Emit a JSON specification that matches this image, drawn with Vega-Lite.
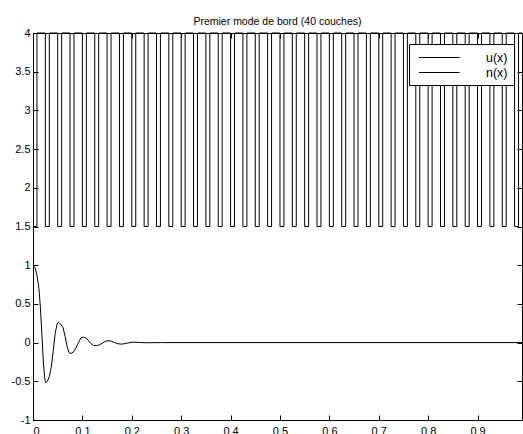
{
  "$schema": "https://vega.github.io/schema/vega-lite/v6.json",
  "width": 489,
  "height": 387,
  "autosize": {"type": "none"},
  "padding": {"left": 33, "top": 33, "right": 1, "bottom": 14},
  "background": "white",
  "title": {"text": "Premier mode de bord (40 couches)", "font": "Liberation Sans", "fontSize": 10.5, "fontWeight": "normal", "color": "black", "offset": 0, "anchor": "middle"},
  "config": {
    "view": {"stroke": "black", "strokeWidth": 1},
    "axis": {"grid": false, "domainColor": "black", "tickColor": "black", "labelColor": "black", "labelFont": "Liberation Sans", "labelFontSize": 11, "title": null, "tickSize": -5},
    "axisX": {"labelPadding": 10},
    "axisY": {"labelPadding": 8}
  },
  "datasets": {
    "n": [
      {"series": "n(x)", "x": 0, "y": 1.5}, {"series": "n(x)", "x": 0.008, "y": 4},
      {"series": "n(x)", "x": 0.025, "y": 1.5}, {"series": "n(x)", "x": 0.033, "y": 4},
      {"series": "n(x)", "x": 0.05, "y": 1.5}, {"series": "n(x)", "x": 0.058, "y": 4},
      {"series": "n(x)", "x": 0.075, "y": 1.5}, {"series": "n(x)", "x": 0.083, "y": 4},
      {"series": "n(x)", "x": 0.1, "y": 1.5}, {"series": "n(x)", "x": 0.108, "y": 4},
      {"series": "n(x)", "x": 0.125, "y": 1.5}, {"series": "n(x)", "x": 0.133, "y": 4},
      {"series": "n(x)", "x": 0.15, "y": 1.5}, {"series": "n(x)", "x": 0.158, "y": 4},
      {"series": "n(x)", "x": 0.175, "y": 1.5}, {"series": "n(x)", "x": 0.183, "y": 4},
      {"series": "n(x)", "x": 0.2, "y": 1.5}, {"series": "n(x)", "x": 0.208, "y": 4},
      {"series": "n(x)", "x": 0.225, "y": 1.5}, {"series": "n(x)", "x": 0.233, "y": 4},
      {"series": "n(x)", "x": 0.25, "y": 1.5}, {"series": "n(x)", "x": 0.258, "y": 4},
      {"series": "n(x)", "x": 0.275, "y": 1.5}, {"series": "n(x)", "x": 0.283, "y": 4},
      {"series": "n(x)", "x": 0.3, "y": 1.5}, {"series": "n(x)", "x": 0.308, "y": 4},
      {"series": "n(x)", "x": 0.325, "y": 1.5}, {"series": "n(x)", "x": 0.333, "y": 4},
      {"series": "n(x)", "x": 0.35, "y": 1.5}, {"series": "n(x)", "x": 0.358, "y": 4},
      {"series": "n(x)", "x": 0.375, "y": 1.5}, {"series": "n(x)", "x": 0.383, "y": 4},
      {"series": "n(x)", "x": 0.4, "y": 1.5}, {"series": "n(x)", "x": 0.408, "y": 4},
      {"series": "n(x)", "x": 0.425, "y": 1.5}, {"series": "n(x)", "x": 0.433, "y": 4},
      {"series": "n(x)", "x": 0.45, "y": 1.5}, {"series": "n(x)", "x": 0.458, "y": 4},
      {"series": "n(x)", "x": 0.475, "y": 1.5}, {"series": "n(x)", "x": 0.483, "y": 4},
      {"series": "n(x)", "x": 0.5, "y": 1.5}, {"series": "n(x)", "x": 0.508, "y": 4},
      {"series": "n(x)", "x": 0.525, "y": 1.5}, {"series": "n(x)", "x": 0.533, "y": 4},
      {"series": "n(x)", "x": 0.55, "y": 1.5}, {"series": "n(x)", "x": 0.558, "y": 4},
      {"series": "n(x)", "x": 0.575, "y": 1.5}, {"series": "n(x)", "x": 0.583, "y": 4},
      {"series": "n(x)", "x": 0.6, "y": 1.5}, {"series": "n(x)", "x": 0.608, "y": 4},
      {"series": "n(x)", "x": 0.625, "y": 1.5}, {"series": "n(x)", "x": 0.633, "y": 4},
      {"series": "n(x)", "x": 0.65, "y": 1.5}, {"series": "n(x)", "x": 0.658, "y": 4},
      {"series": "n(x)", "x": 0.675, "y": 1.5}, {"series": "n(x)", "x": 0.683, "y": 4},
      {"series": "n(x)", "x": 0.7, "y": 1.5}, {"series": "n(x)", "x": 0.708, "y": 4},
      {"series": "n(x)", "x": 0.725, "y": 1.5}, {"series": "n(x)", "x": 0.733, "y": 4},
      {"series": "n(x)", "x": 0.75, "y": 1.5}, {"series": "n(x)", "x": 0.758, "y": 4},
      {"series": "n(x)", "x": 0.775, "y": 1.5}, {"series": "n(x)", "x": 0.783, "y": 4},
      {"series": "n(x)", "x": 0.8, "y": 1.5}, {"series": "n(x)", "x": 0.808, "y": 4},
      {"series": "n(x)", "x": 0.825, "y": 1.5}, {"series": "n(x)", "x": 0.833, "y": 4},
      {"series": "n(x)", "x": 0.85, "y": 1.5}, {"series": "n(x)", "x": 0.858, "y": 4},
      {"series": "n(x)", "x": 0.875, "y": 1.5}, {"series": "n(x)", "x": 0.883, "y": 4},
      {"series": "n(x)", "x": 0.9, "y": 1.5}, {"series": "n(x)", "x": 0.908, "y": 4},
      {"series": "n(x)", "x": 0.925, "y": 1.5}, {"series": "n(x)", "x": 0.933, "y": 4},
      {"series": "n(x)", "x": 0.95, "y": 1.5}, {"series": "n(x)", "x": 0.958, "y": 4},
      {"series": "n(x)", "x": 0.975, "y": 1.5}, {"series": "n(x)", "x": 0.983, "y": 4},
      {"series": "n(x)", "x": 0.99, "y": 4}
    ],
    "u": [
      {"series": "u(x)", "x": 0, "y": 1.0},
      {"series": "u(x)", "x": 0.004, "y": 0.97},
      {"series": "u(x)", "x": 0.008, "y": 0.87},
      {"series": "u(x)", "x": 0.012, "y": 0.7},
      {"series": "u(x)", "x": 0.015, "y": 0.45},
      {"series": "u(x)", "x": 0.018, "y": 0.1},
      {"series": "u(x)", "x": 0.021, "y": -0.25},
      {"series": "u(x)", "x": 0.024, "y": -0.48},
      {"series": "u(x)", "x": 0.026, "y": -0.52},
      {"series": "u(x)", "x": 0.029, "y": -0.5},
      {"series": "u(x)", "x": 0.033, "y": -0.44},
      {"series": "u(x)", "x": 0.037, "y": -0.32},
      {"series": "u(x)", "x": 0.041, "y": -0.1},
      {"series": "u(x)", "x": 0.045, "y": 0.12},
      {"series": "u(x)", "x": 0.049, "y": 0.25},
      {"series": "u(x)", "x": 0.052, "y": 0.26},
      {"series": "u(x)", "x": 0.056, "y": 0.24},
      {"series": "u(x)", "x": 0.061, "y": 0.19},
      {"series": "u(x)", "x": 0.065, "y": 0.08},
      {"series": "u(x)", "x": 0.069, "y": -0.05},
      {"series": "u(x)", "x": 0.073, "y": -0.13},
      {"series": "u(x)", "x": 0.077, "y": -0.14},
      {"series": "u(x)", "x": 0.082, "y": -0.12},
      {"series": "u(x)", "x": 0.087, "y": -0.07},
      {"series": "u(x)", "x": 0.092, "y": 0.0},
      {"series": "u(x)", "x": 0.097, "y": 0.06},
      {"series": "u(x)", "x": 0.102, "y": 0.07},
      {"series": "u(x)", "x": 0.107, "y": 0.06},
      {"series": "u(x)", "x": 0.112, "y": 0.03},
      {"series": "u(x)", "x": 0.117, "y": -0.01},
      {"series": "u(x)", "x": 0.122, "y": -0.035},
      {"series": "u(x)", "x": 0.128, "y": -0.04},
      {"series": "u(x)", "x": 0.134, "y": -0.03},
      {"series": "u(x)", "x": 0.14, "y": -0.01},
      {"series": "u(x)", "x": 0.146, "y": 0.015},
      {"series": "u(x)", "x": 0.152, "y": 0.025},
      {"series": "u(x)", "x": 0.158, "y": 0.02},
      {"series": "u(x)", "x": 0.165, "y": 0.0},
      {"series": "u(x)", "x": 0.172, "y": -0.015},
      {"series": "u(x)", "x": 0.18, "y": -0.02},
      {"series": "u(x)", "x": 0.188, "y": -0.01},
      {"series": "u(x)", "x": 0.196, "y": 0.0},
      {"series": "u(x)", "x": 0.204, "y": 0.006},
      {"series": "u(x)", "x": 0.215, "y": 0.002},
      {"series": "u(x)", "x": 0.23, "y": -0.002},
      {"series": "u(x)", "x": 0.26, "y": 0.0},
      {"series": "u(x)", "x": 0.99, "y": 0.0}
    ]
  },
  "layer": [
    {
      "data": {"name": "n"},
      "mark": {"type": "line", "interpolate": "step-after", "strokeWidth": 1},
      "encoding": {
        "x": {"field": "x", "type": "quantitative", "scale": {"domain": [0, 0.99], "nice": false, "zero": false},
              "axis": {"orient": "bottom", "values": [0, 0.1, 0.2, 0.3, 0.4, 0.5, 0.6, 0.7, 0.8, 0.9], "labelExpr": "datum.value + ''"}},
        "y": {"field": "y", "type": "quantitative", "scale": {"domain": [-1, 4], "nice": false, "zero": false},
              "axis": {"orient": "left", "values": [-1, -0.5, 0, 0.5, 1, 1.5, 2, 2.5, 3, 3.5, 4], "labelExpr": "datum.value + ''"}},
        "color": {"field": "series", "type": "nominal",
                  "scale": {"domain": ["u(x)", "n(x)"], "range": ["black", "black"]},
                  "legend": {"orient": "none", "legendX": 376, "legendY": 11, "title": null, "symbolType": "M-0.5,0H5.3", "symbolSize": 196, "symbolStrokeWidth": 1, "symbolStrokeColor": "black", "symbolFillColor": "transparent", "labelOffset": 56, "labelFont": "Liberation Sans", "labelFontSize": 12.5, "labelColor": "black", "padding": 6, "fillColor": "white", "strokeColor": "black", "rowPadding": 1}}
      }
    },
    {
      "data": {"name": "u"},
      "mark": {"type": "line", "strokeWidth": 1},
      "encoding": {
        "x": {"field": "x", "type": "quantitative",
              "axis": {"orient": "top", "values": [0, 0.1, 0.2, 0.3, 0.4, 0.5, 0.6, 0.7, 0.8, 0.9], "labels": false}},
        "y": {"field": "y", "type": "quantitative",
              "axis": {"orient": "right", "values": [-1, -0.5, 0, 0.5, 1, 1.5, 2, 2.5, 3, 3.5, 4], "labels": false}},
        "color": {"field": "series", "type": "nominal"}
      }
    }
  ]
}
